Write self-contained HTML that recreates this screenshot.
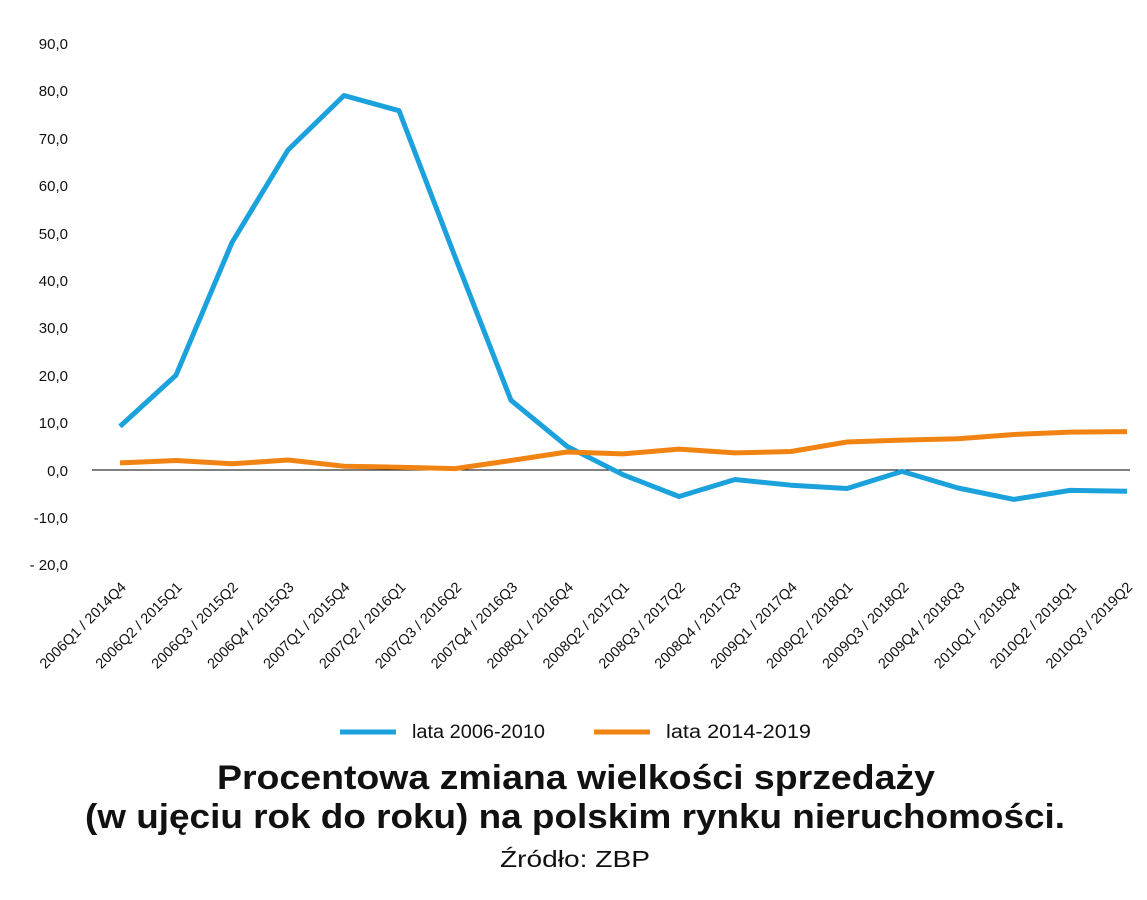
<!DOCTYPE html>
<html><head><meta charset="utf-8"><style>
body{margin:0;background:#fff;width:1147px;height:895px;overflow:hidden;font-family:"Liberation Sans",sans-serif}
</style></head><body>
<svg width="1147" height="895" xmlns="http://www.w3.org/2000/svg" font-family="Liberation Sans, sans-serif">
<g font-size="15" fill="#111" text-anchor="end">
<text x="68" y="49">90,0</text>
<text x="68" y="96">80,0</text>
<text x="68" y="144">70,0</text>
<text x="68" y="191">60,0</text>
<text x="68" y="239">50,0</text>
<text x="68" y="286">40,0</text>
<text x="68" y="333">30,0</text>
<text x="68" y="381">20,0</text>
<text x="68" y="428">10,0</text>
<text x="68" y="476">0,0</text>
<text x="68" y="523">-10,0</text>
<text x="68" y="570">- 20,0</text>
</g>
<line x1="92" y1="470" x2="1130" y2="470" stroke="#000" stroke-width="1"/>
<g id="xl" font-size="14.5" fill="#111" text-anchor="end"></g>
<polyline fill="none" stroke="#1ba1dc" stroke-width="5" stroke-linejoin="round" points="120,426.4 176,375.2 232,242.5 288,150 344,95.5 399,110.7 455,256.7 511,400.3 567,446.3 623,474.7 679,496.5 735,479.5 791,485.2 847,488.5 902,471.4 958,488 1014,499.4 1070,490.4 1127,491.3"/>
<polyline fill="none" stroke="#f08312" stroke-width="5" stroke-linejoin="round" points="120,462.9 176,460.5 232,463.8 288,460 344,466.2 399,467.2 455,468.6 511,460.5 567,452 623,453.9 679,449.1 735,452.9 791,451.5 847,442 902,440.1 958,438.7 1014,434.5 1070,432.1 1127,431.6"/>
<line x1="340" y1="732" x2="396" y2="732" stroke="#1ba1dc" stroke-width="5"/>
<text x="412" y="738" font-size="19" fill="#111" textLength="133" lengthAdjust="spacingAndGlyphs">lata 2006-2010</text>
<line x1="594" y1="732" x2="650" y2="732" stroke="#f08312" stroke-width="5"/>
<text x="666" y="738" font-size="19" fill="#111" textLength="145" lengthAdjust="spacingAndGlyphs">lata 2014-2019</text>
<g font-size="34" font-weight="bold" fill="#111">
<text x="217" y="789" textLength="718" lengthAdjust="spacingAndGlyphs">Procentowa zmiana wielkości sprzedaży</text>
<text x="85" y="828" textLength="980" lengthAdjust="spacingAndGlyphs">(w ujęciu rok do roku) na polskim rynku nieruchomości.</text>
</g>
<text x="500" y="867" font-size="23" fill="#111" textLength="150" lengthAdjust="spacingAndGlyphs">Źródło: ZBP</text>
</svg>
<script>
var labs=["2006Q1 / 2014Q4","2006Q2 / 2015Q1","2006Q3 / 2015Q2","2006Q4 / 2015Q3","2007Q1 / 2015Q4","2007Q2 / 2016Q1","2007Q3 / 2016Q2","2007Q4 / 2016Q3","2008Q1 / 2016Q4","2008Q2 / 2017Q1","2008Q3 / 2017Q2","2008Q4 / 2017Q3","2009Q1 / 2017Q4","2009Q2 / 2018Q1","2009Q3 / 2018Q2","2009Q4 / 2018Q3","2010Q1 / 2018Q4","2010Q2 / 2019Q1","2010Q3 / 2019Q2"];
var g=document.getElementById("xl"),ns="http://www.w3.org/2000/svg";
labs.forEach(function(l,i){var x=127+i*55.9,y=588;var t=document.createElementNS(ns,"text");t.setAttribute("x",x);t.setAttribute("y",y);t.setAttribute("transform","rotate(-45 "+x+" "+y+")");t.textContent=l;g.appendChild(t);});
</script>
</body></html>
